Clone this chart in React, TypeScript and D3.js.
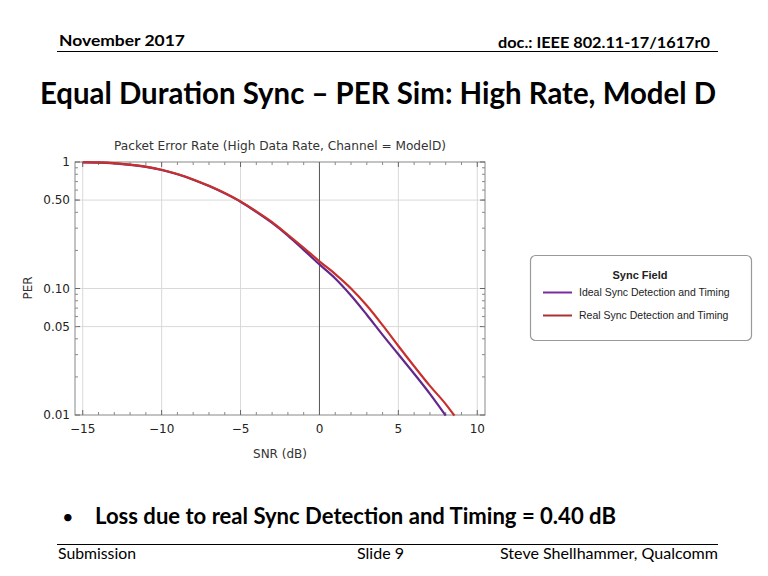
import React from 'react';
import * as d3 from 'd3';

// SNR (dB) sample points
const snrIdeal = [-15, -14, -13, -12, -11, -10, -9, -8, -7, -6, -5, -4, -3, -2, -1, 0, 1, 2, 3, 4, 5, 6, 7, 8];
const perIdeal = [0.995, 0.99, 0.975, 0.95, 0.915, 0.865, 0.8, 0.725, 0.645, 0.565, 0.485, 0.403, 0.33, 0.262, 0.202, 0.155, 0.12, 0.088, 0.062, 0.043, 0.0302, 0.0212, 0.0147, 0.0099];

const snrReal = [-15, -14, -13, -12, -11, -10, -9, -8, -7, -6, -5, -4, -3, -2, -1, 0, 1, 2, 3, 4, 5, 6, 7, 8, 8.55];
const perReal = [0.997, 0.992, 0.978, 0.953, 0.918, 0.868, 0.803, 0.728, 0.648, 0.568, 0.488, 0.407, 0.335, 0.266, 0.21, 0.164, 0.13, 0.1, 0.0733, 0.0513, 0.0351, 0.0243, 0.017, 0.0122, 0.0099];

const xTicks = [-15, -10, -5, 0, 5, 10];
const yTicks = [1, 0.5, 0.1, 0.05, 0.01];
const yTickLabels = ['1', '0.50', '0.10', '0.05', '0.01'];
const legendLabels = ['Ideal Sync Detection and Timing', 'Real Sync Detection and Timing'];

const purple = '#62288c';
const red = '#c8302c';

const App: React.FC = () => {
  const left = 75, right = 485, top = 162, bottom = 415;
  const x = d3.scaleLinear().domain([-15.49, 10.49]).range([left, right]);
  const y = d3.scaleLog().domain([0.01, 1]).range([bottom, top]);

  const line = d3.line<[number, number]>()
    .x(d => x(d[0]))
    .y(d => y(d[1]))
    .curve(d3.curveMonotoneX);

  const idealPts = snrIdeal.map((s, i) => [s, perIdeal[i]] as [number, number]);
  const realPts = snrReal.map((s, i) => [s, perReal[i]] as [number, number]);

  const minorX = d3.range(-15, 11, 1).filter(v => v % 5 !== 0);
  const minorY: number[] = [];
  [0.01, 0.1].forEach(d => { for (let k = 2; k <= 9; k++) minorY.push(d * k); });

  const cal = 'Lato, "Open Sans", sans-serif';
  const chartFont = '"DejaVu Sans", Verdana, sans-serif';
  const arial = '"Liberation Sans", Arial, sans-serif';

  return (
    <svg width={768} height={576} style={{ position: 'absolute', left: 0, top: 0, background: '#fff' }}>
      {/* slide header */}
      <text x={59} y={46} fontFamily={cal} fontSize={16} fontWeight="bold" textLength={126} lengthAdjust="spacingAndGlyphs">November 2017</text>
      <text x={710} y={48} fontFamily={cal} fontSize={15} fontWeight="bold" textAnchor="end" textLength={212} lengthAdjust="spacingAndGlyphs">doc.: IEEE 802.11-17/1617r0</text>
      <line x1={57} x2={718} y1={51.5} y2={51.5} stroke="#000" strokeWidth={1} />
      <text x={40} y={104} fontFamily={cal} fontSize={31} fontWeight="bold" textLength={676} lengthAdjust="spacingAndGlyphs">Equal Duration Sync – PER Sim: High Rate, Model D</text>

      {/* chart */}
      <text x={280} y={150} textAnchor="middle" fontFamily={chartFont} fontSize={12.5} fill="#333" textLength={332} lengthAdjust="spacingAndGlyphs">Packet Error Rate (High Data Rate, Channel = ModelD)</text>
      <g>
        {xTicks.filter(v => v !== 0).map(v => (
          <line key={'gx' + v} x1={x(v)} x2={x(v)} y1={top} y2={bottom} stroke="#d9d9d9" strokeWidth={1} />
        ))}
        {yTicks.filter(v => v !== 1 && v !== 0.01).map(v => (
          <line key={'gy' + v} x1={left} x2={right} y1={y(v)} y2={y(v)} stroke="#d9d9d9" strokeWidth={1} />
        ))}
        <line x1={x(0)} x2={x(0)} y1={top} y2={bottom} stroke="#555" strokeWidth={1} />
        <rect x={left} y={top} width={right - left} height={bottom - top} fill="none" stroke="#888" strokeWidth={1} />
        {xTicks.map(v => (
          <g key={'tx' + v}>
            <line x1={x(v)} x2={x(v)} y1={bottom} y2={bottom - 5} stroke="#666" />
            <line x1={x(v)} x2={x(v)} y1={top} y2={top + 5} stroke="#666" />
          </g>
        ))}
        {minorX.map(v => (
          <g key={'mx' + v}>
            <line x1={x(v)} x2={x(v)} y1={bottom} y2={bottom - 3} stroke="#888" />
            <line x1={x(v)} x2={x(v)} y1={top} y2={top + 3} stroke="#888" />
          </g>
        ))}
        {yTicks.map(v => (
          <g key={'ty' + v}>
            <line x1={left} x2={left + 5} y1={y(v)} y2={y(v)} stroke="#666" />
            <line x1={right} x2={right - 5} y1={y(v)} y2={y(v)} stroke="#666" />
          </g>
        ))}
        {minorY.map(v => (
          <g key={'my' + v}>
            <line x1={left} x2={left + 3} y1={y(v)} y2={y(v)} stroke="#888" />
            <line x1={right} x2={right - 3} y1={y(v)} y2={y(v)} stroke="#888" />
          </g>
        ))}
        <path d={line(idealPts) || ''} fill="none" stroke={purple} strokeWidth={2.2} />
        <path d={line(realPts) || ''} fill="none" stroke={red} strokeWidth={2.2} />
        {xTicks.map(v => (
          <text key={'lx' + v} x={x(v)} y={433} textAnchor="middle" fontFamily={chartFont} fontSize={12} fill="#222">
            {v < 0 ? '\u2212' + Math.abs(v) : String(v)}
          </text>
        ))}
        {yTicks.map((v, i) => (
          <text key={'ly' + v} x={70} y={y(v) + 4} textAnchor="end" fontFamily={chartFont} fontSize={12} fill="#222">{yTickLabels[i]}</text>
        ))}
        <text x={280} y={458} textAnchor="middle" fontFamily={chartFont} fontSize={12} fill="#333">SNR (dB)</text>
        <text transform={`translate(32, 288) rotate(-90)`} textAnchor="middle" fontFamily={chartFont} fontSize={12} fill="#333">PER</text>
      </g>

      {/* legend */}
      <rect x={530.5} y={255.5} width={221} height={85} rx={5} fill="#fff" stroke="#999" strokeWidth={1.2} />
      <text x={640} y={279} textAnchor="middle" fontFamily={arial} fontSize={11} fontWeight="bold" fill="#222">Sync Field</text>
      <line x1={543} x2={572} y1={292.5} y2={292.5} stroke="#7a2c9e" strokeWidth={2} />
      <text x={579} y={296} fontFamily={arial} fontSize={10.5} fill="#222">{legendLabels[0]}</text>
      <line x1={543} x2={572} y1={315.5} y2={315.5} stroke="#a83232" strokeWidth={2} />
      <text x={579} y={319} fontFamily={arial} fontSize={10.5} fill="#222">{legendLabels[1]}</text>

      {/* bullet */}
      <text x={62} y={524} fontFamily={cal} fontSize={20}>•</text>
      <text x={95} y={524} fontFamily={cal} fontSize={22} fontWeight="bold" textLength={521} lengthAdjust="spacingAndGlyphs">Loss due to real Sync Detection and Timing = 0.40 dB</text>

      {/* footer */}
      <line x1={57} x2={718} y1={544.5} y2={544.5} stroke="#000" strokeWidth={1} />
      <text x={58} y={559} fontFamily={cal} fontSize={16} textLength={78} lengthAdjust="spacingAndGlyphs">Submission</text>
      <text x={357} y={559} fontFamily={cal} fontSize={16} textLength={47} lengthAdjust="spacingAndGlyphs">Slide 9</text>
      <text x={718} y={559} fontFamily={cal} fontSize={16} textAnchor="end" textLength={218} lengthAdjust="spacingAndGlyphs">Steve Shellhammer, Qualcomm</text>
    </svg>
  );
};

export default App;
